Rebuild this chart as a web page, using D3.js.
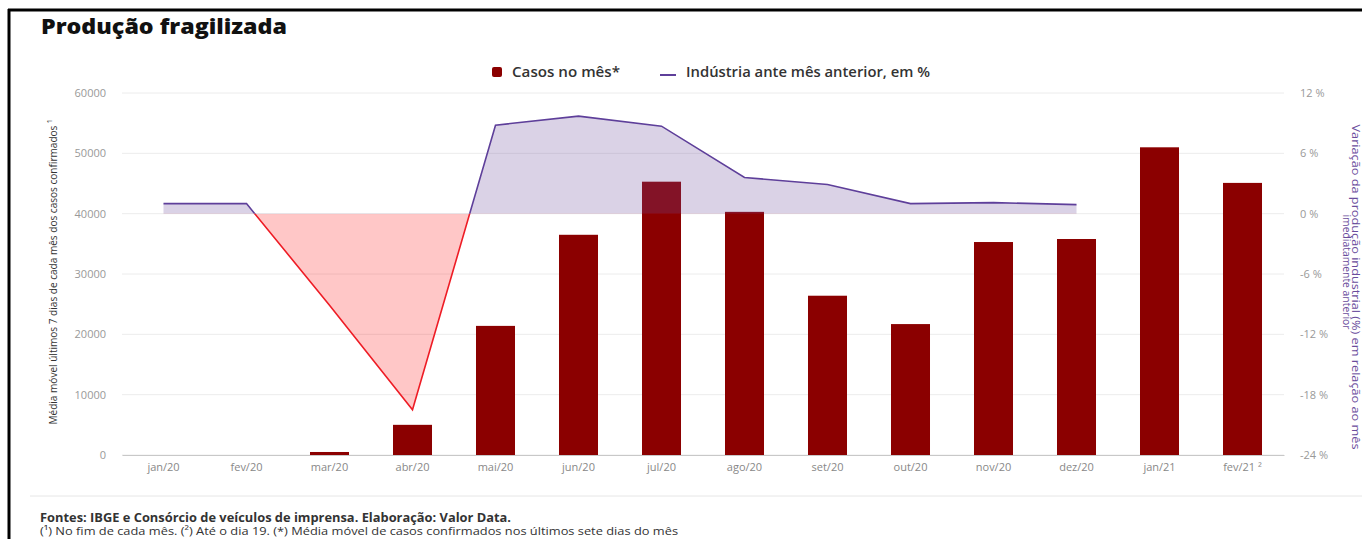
<!DOCTYPE html>
<html>
<head>
<meta charset="utf-8">
<script src="https://cdn.jsdelivr.net/npm/d3@7"></script>
<style>
  html, body { margin: 0; padding: 0; background: #fff; }
  svg { display: block; font-family: "Open Sans", sans-serif; }
</style>
</head>
<body>
<svg id="chart" width="1362" height="539"></svg>
<script>
// Months on the x axis
const months = ["jan/20","fev/20","mar/20","abr/20","mai/20","jun/20","jul/20",
                "ago/20","set/20","out/20","nov/20","dez/20","jan/21","fev/21"];
const monthLabels = ["jan/20","fev/20","mar/20","abr/20","mai/20","jun/20","jul/20",
                "ago/20","set/20","out/20","nov/20","dez/20","jan/21","fev/21 ²"];
// 7-day moving average of confirmed cases, end of each month
const cases = [0, 0, 500, 5000, 21400, 36500, 45300, 40300, 26400, 21700, 35300, 35800, 51000, 45100];
// Industrial production, % change vs previous month (jan/20 .. dez/20)
const industryMonths = months.slice(0, 12);
const industry = [1.0, 1.0, -9.1, -19.5, 8.8, 9.7, 8.7, 3.6, 2.9, 1.0, 1.1, 0.9];
// Axis ticks
const leftTicks = [0, 10000, 20000, 30000, 40000, 50000, 60000];
const rightTicks = [-24, -18, -12, -6, 0, 6, 12];

const svg = d3.select("#chart");
const plotLeft = 122, plotRight = 1284, plotTop = 93, plotBottom = 455;

const x = d3.scaleBand().domain(months).range([plotLeft, plotRight])
  .paddingInner(0.53).paddingOuter(0.265);
const yL = d3.scaleLinear().domain([0, 60000]).range([plotBottom, plotTop]);
const yR = d3.scaleLinear().domain([-24, 12]).range([plotBottom, plotTop]);
const cx = m => x(m) + x.bandwidth() / 2;

// Frame
svg.append("line").attr("x1", 8).attr("x2", 1362).attr("y1", 10).attr("y2", 10)
  .attr("stroke", "#000").attr("stroke-width", 3);
svg.append("line").attr("x1", 9).attr("x2", 9).attr("y1", 9).attr("y2", 539)
  .attr("stroke", "#000").attr("stroke-width", 3);

// Title
svg.append("text").attr("x", 41).attr("y", 34)
  .attr("font-size", 21).attr("font-weight", 800).attr("fill", "#111")
  .attr("textLength", 246).attr("lengthAdjust", "spacingAndGlyphs")
  .text("Produção fragilizada");

// Legend
const lg = svg.append("g").attr("font-size", 14).attr("font-weight", 600).attr("fill", "#333");
lg.append("rect").attr("x", 492).attr("y", 67).attr("width", 10).attr("height", 10)
  .attr("rx", 2).attr("fill", "#8b0000");
lg.append("text").attr("x", 512).attr("y", 77).attr("textLength", 108)
  .attr("lengthAdjust", "spacingAndGlyphs").text("Casos no mês*");
lg.append("line").attr("x1", 660).attr("x2", 676).attr("y1", 75).attr("y2", 75)
  .attr("stroke", "#5e3f9a").attr("stroke-width", 2);
lg.append("text").attr("x", 686).attr("y", 77).attr("textLength", 244)
  .attr("lengthAdjust", "spacingAndGlyphs").text("Indústria ante mês anterior, em %");

// Gridlines
svg.append("g").selectAll("line").data(leftTicks).join("line")
  .attr("x1", plotLeft).attr("x2", plotRight)
  .attr("y1", d => yL(d)).attr("y2", d => yL(d))
  .attr("stroke", "#ececec").attr("stroke-width", 1);

// Left axis
const axL = svg.append("g").attr("transform", `translate(${plotLeft},0)`)
  .call(d3.axisLeft(yL).tickValues(leftTicks).tickFormat(d3.format("d")).tickSize(0).tickPadding(16));
axL.select(".domain").remove();
axL.selectAll("text").attr("font-size", 11).attr("fill", "#999").attr("font-family", "Open Sans");

// Right axis
const axR = svg.append("g").attr("transform", `translate(${plotRight},0)`)
  .call(d3.axisRight(yR).tickValues(rightTicks).tickFormat(d => d + " %").tickSize(0).tickPadding(16));
axR.select(".domain").remove();
axR.selectAll("text").attr("font-size", 11).attr("fill", "#999").attr("font-family", "Open Sans");

// Bars
svg.append("g").selectAll("rect").data(cases).join("rect")
  .attr("x", (d, i) => x(months[i]))
  .attr("width", x.bandwidth())
  .attr("y", d => yL(d))
  .attr("height", d => plotBottom - yL(d))
  .attr("fill", "#8b0000");

// Bottom axis
const axB = svg.append("g").attr("transform", `translate(0,${plotBottom})`)
  .call(d3.axisBottom(x).tickFormat((d, i) => monthLabels[i]).tickSize(0).tickPadding(8));
axB.select(".domain").attr("stroke", "#c8c8c8");
axB.selectAll("text").attr("font-size", 11).attr("fill", "#888").attr("font-family", "Open Sans");

// Industry area and line, split at 0 %
const zeroY = yR(0);
const defs = svg.append("defs");
defs.append("clipPath").attr("id", "clipPos").append("rect")
  .attr("x", 0).attr("y", 0).attr("width", 1362).attr("height", zeroY);
defs.append("clipPath").attr("id", "clipNeg").append("rect")
  .attr("x", 0).attr("y", zeroY).attr("width", 1362).attr("height", 539 - zeroY);

const pts = industry.map((v, i) => [cx(industryMonths[i]), yR(v)]);
const area = d3.area().x(d => d[0]).y0(zeroY).y1(d => d[1]);
const line = d3.line().x(d => d[0]).y(d => d[1]);

svg.append("path").datum(pts).attr("d", area)
  .attr("fill", "#6a4c9c").attr("fill-opacity", 0.25).attr("clip-path", "url(#clipPos)");
svg.append("path").datum(pts).attr("d", area)
  .attr("fill", "#ff0000").attr("fill-opacity", 0.22).attr("clip-path", "url(#clipNeg)");
svg.append("path").datum(pts).attr("d", line)
  .attr("fill", "none").attr("stroke", "#5e3f9a").attr("stroke-width", 1.6)
  .attr("clip-path", "url(#clipPos)");
svg.append("path").datum(pts).attr("d", line)
  .attr("fill", "none").attr("stroke", "#ee1c25").attr("stroke-width", 1.6)
  .attr("clip-path", "url(#clipNeg)");

// Left axis title
svg.append("text")
  .attr("transform", "translate(57,272) rotate(-90)")
  .attr("text-anchor", "middle").attr("font-size", 11.5).attr("fill", "#333")
  .attr("textLength", 305).attr("lengthAdjust", "spacingAndGlyphs")
  .text("Média móvel últimos 7 dias de cada mês dos casos confirmados ¹");

// Right axis title (two lines)
svg.append("text")
  .attr("transform", "translate(1343,272) rotate(90)")
  .attr("text-anchor", "middle").attr("font-size", 11).attr("fill", "#6a4c9c")
  .attr("textLength", 115).attr("lengthAdjust", "spacingAndGlyphs")
  .text("imediatamente anterior");
svg.append("text")
  .attr("transform", "translate(1352,287) rotate(90)")
  .attr("text-anchor", "middle").attr("font-size", 10).attr("fill", "#6a4c9c")
  .attr("textLength", 325).attr("lengthAdjust", "spacingAndGlyphs")
  .text("Variação da produção industrial (%) em relação ao mês");

// Footer
svg.append("line").attr("x1", 30).attr("x2", 1362).attr("y1", 496).attr("y2", 496)
  .attr("stroke", "#e6e6e6");
svg.append("text").attr("x", 40).attr("y", 522)
  .attr("font-size", 11.5).attr("font-weight", 700).attr("fill", "#333")
  .attr("textLength", 471).attr("lengthAdjust", "spacingAndGlyphs")
  .text("Fontes: IBGE e Consórcio de veículos de imprensa. Elaboração: Valor Data.");
svg.append("text").attr("x", 40).attr("y", 535)
  .attr("font-size", 11.5).attr("fill", "#333")
  .attr("textLength", 638).attr("lengthAdjust", "spacingAndGlyphs")
  .text("(¹) No fim de cada mês. (²) Até o dia 19. (*) Média móvel de casos confirmados nos últimos sete dias do mês");
</script>
</body>
</html>
